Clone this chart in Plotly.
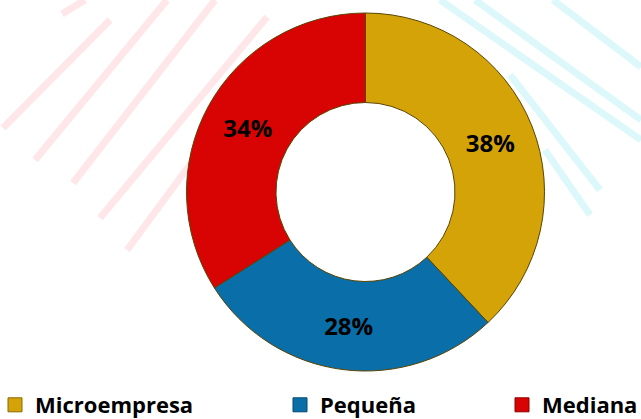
import plotly.graph_objects as go

categories = ["Microempresa", "Pequeña", "Mediana"]
values = [38, 28, 34]
colors = ["#D4A308", "#0A6FA8", "#D80404"]
edge_colors = ["#8A6A00", "#05486E", "#8A0000"]

W, H = 641, 419
cx, cy, r = 365.5, 192, 179

fig = go.Figure()
fig.add_trace(go.Pie(
    labels=categories,
    values=values,
    hole=0.5,
    sort=False,
    direction="clockwise",
    rotation=0,
    showlegend=False,
    marker=dict(colors=colors, line=dict(color="#5a4300", width=1)),
    textinfo="percent",
    texttemplate="%{percent:.0%}",
    textposition="inside",
    insidetextorientation="horizontal",
    textfont=dict(family="Open Sans", size=24, color="black", weight="bold"),
    domain=dict(x=[(cx - r) / W, (cx + r) / W], y=[1 - (cy + r) / H, 1 - (cy - r) / H]),
))

legend_names = ["legend", "legend2", "legend3"]
legend_x_px = [-5, 280, 502]
for cat, col, ec, lg in zip(categories, colors, edge_colors, legend_names):
    fig.add_trace(go.Scatter(
        x=[None], y=[None], mode="markers", name=cat, legend=lg,
        marker=dict(symbol="square", size=14, color=col, line=dict(color=ec, width=1)),
        showlegend=True, hoverinfo="skip",
    ))

legend_font = dict(family="Open Sans", size=22, color="black", weight="bold")
legend_common = dict(orientation="h", yanchor="middle", y=1 - 405 / H, xanchor="left",
                     font=legend_font, bgcolor="rgba(0,0,0,0)", borderwidth=0)

pink_stripes = [((3, 128), (110, 20)), ((35, 160), (167, 0)), ((73, 183), (215, 0)),
                ((100, 218), (267, 17)), ((127, 250), (262, 67)), ((62, 14), (85, 0))]
cyan_stripes = [((440, 0), (641, 140)), ((475, 0), (641, 120)), ((553, 0), (641, 67)),
                ((510, 75), (600, 190)), ((545, 150), (590, 215))]
shapes = []
for (x0, y0), (x1, y1) in pink_stripes:
    shapes.append(dict(type="line", xref="paper", yref="paper", layer="below",
                       x0=x0 / W, y0=1 - y0 / H, x1=x1 / W, y1=1 - y1 / H,
                       line=dict(color="#FEE6E9", width=7)))
for (x0, y0), (x1, y1) in cyan_stripes:
    shapes.append(dict(type="line", xref="paper", yref="paper", layer="below",
                       x0=x0 / W, y0=1 - y0 / H, x1=x1 / W, y1=1 - y1 / H,
                       line=dict(color="#DDF8FA", width=7)))

fig.update_layout(
    width=W, height=H,
    margin=dict(l=0, r=0, t=0, b=0, autoexpand=False),
    paper_bgcolor="white",
    plot_bgcolor="rgba(0,0,0,0)",
    xaxis=dict(visible=False, range=[0, 1]),
    yaxis=dict(visible=False, range=[0, 1]),
    shapes=shapes,
    legend=dict(x=legend_x_px[0] / W, **legend_common),
    legend2=dict(x=legend_x_px[1] / W, **legend_common),
    legend3=dict(x=legend_x_px[2] / W, **legend_common),
)

fig.write_html("out.html", config={"displayModeBar": False},
               post_script="document.body.style.margin='0';")
